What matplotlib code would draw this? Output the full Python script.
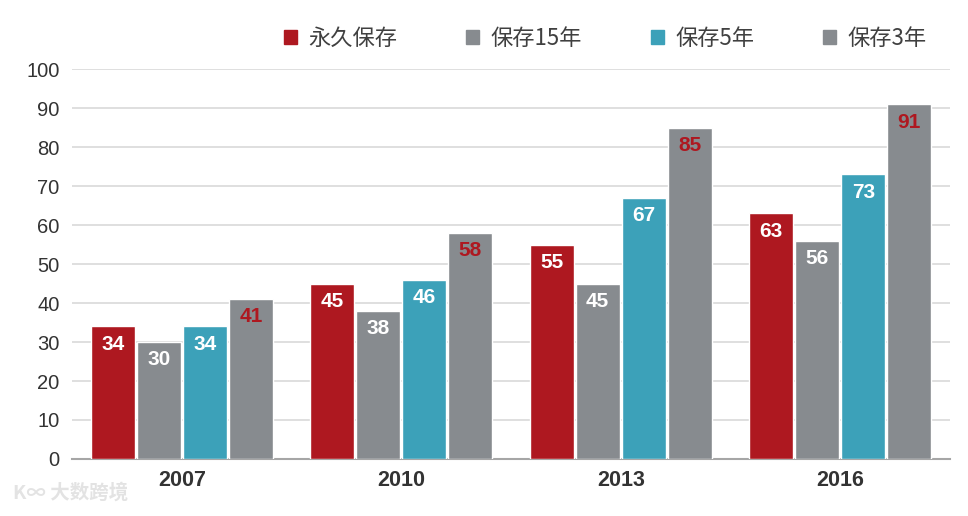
import numpy as np
import matplotlib
matplotlib.use('Agg')
import matplotlib.pyplot as plt
from matplotlib.patches import Patch

plt.rcParams['font.family'] = ['Liberation Sans', 'Noto Sans CJK SC', 'DejaVu Sans']

years = ['2007', '2010', '2013', '2016']
series_names = ['永久保存', '保存15年', '保存5年', '保存3年']
permanent = [34, 45, 55, 63]
keep_15 = [30, 38, 45, 56]
keep_5 = [34, 46, 67, 73]
keep_3 = [41, 58, 85, 91]

colors = ['#AE1820', '#878B8F', '#3CA1B9', '#878B8F']
label_colors = ['white', 'white', 'white', '#AE1820']

fig = plt.figure(figsize=(9.68, 5.16), dpi=100)
ax = fig.add_axes([0.0744, 0.1105, 0.907, 0.7556])

x = np.arange(len(years))
step = 0.21
width = 0.2
all_series = [permanent, keep_15, keep_5, keep_3]
for i, vals in enumerate(all_series):
    pos = x + (i - 1.5) * step
    ax.bar(pos, vals, width, color=colors[i], edgecolor='white', linewidth=1.0, zorder=3)
    for px, v in zip(pos, vals):
        ax.annotate(str(v), (px, v), xytext=(0, -6), textcoords='offset points',
                    ha='center', va='top', fontsize=15, fontweight='bold',
                    color=label_colors[i], zorder=4)

ax.set_xlim(-0.5, 3.5)
ax.set_ylim(0, 100)
ax.set_yticks(range(0, 101, 10))
ax.yaxis.grid(True, color='#D9D9D9', linewidth=1.2, zorder=0)
ax.set_axisbelow(True)
for s in ['top', 'right', 'left']:
    ax.spines[s].set_visible(False)
ax.spines['bottom'].set_color('#A6A6A6')
ax.spines['bottom'].set_linewidth(1.5)
ax.tick_params(axis='y', length=0, labelsize=14.5, labelcolor='#333333', pad=9)
ax.tick_params(axis='x', length=0, pad=8)
ax.set_xticks(x)
ax.set_xticklabels(years, fontsize=15.5, fontweight='bold', color='#333333')

handles = [Patch(color=c) for c in colors]
leg = fig.legend(handles, series_names, loc='center', bbox_to_anchor=(0.625, 0.926),
                 ncol=4, frameon=False, handlelength=0.6, handleheight=0.6,
                 handletextpad=0.5, columnspacing=3.1,
                 prop={'family': ['Noto Sans CJK SC', 'DejaVu Sans'], 'size': 16})
for t in leg.get_texts():
    t.set_color('#404040')

# watermark
fig.text(0.013, 0.033, 'K∞ 大数跨境', fontsize=14, color='#E3E3E3', fontweight='bold',
         family=['Noto Sans CJK SC', 'DejaVu Sans'])

fig.savefig('out.png', dpi=100)
